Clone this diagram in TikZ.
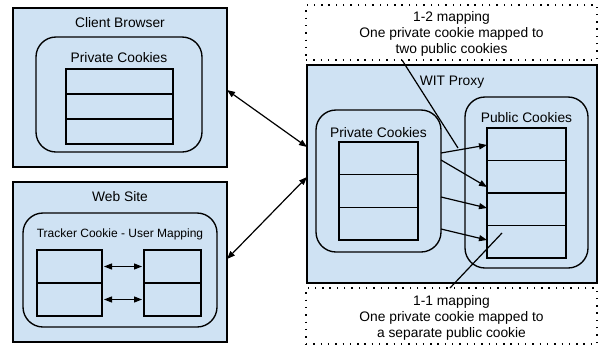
\documentclass[tikz,border=0pt]{standalone}
\usepackage{fontspec}
\setmainfont{Liberation Sans}
\usetikzlibrary{arrows.meta}
\definecolor{boxblue}{HTML}{CFE2F3}
\begin{document}
\begin{tikzpicture}[x=1pt,y=-1pt,
  every node/.style={inner sep=0pt,outer sep=0pt},
  panel/.style={draw=black,fill=boxblue,line width=1.35pt,rectangle},
  roundbox/.style={draw=black,fill=boxblue,line width=1.35pt,rectangle,rounded corners=20pt},
  cell/.style={draw=black,fill=boxblue,line width=1.35pt,rectangle},
  note/.style={draw=black,line width=1.4pt,dash pattern=on 1.4pt off 5.9pt,rectangle},
  lbl/.style={font=\fontsize{13.8pt}{16pt}\selectfont,align=center},
  smalllbl/.style={font=\fontsize{12pt}{14pt}\selectfont,align=center},
  link/.style={line width=1.2pt,{Triangle[length=8pt,width=6pt]}-{Triangle[length=8pt,width=6pt]}},
  oneway/.style={line width=1.2pt,-{Triangle[length=8pt,width=6pt]}},
  callout/.style={line width=1.2pt}]
\useasboundingbox (0,0) rectangle (599,346);

% Client browser
\node[panel,minimum width=214pt,minimum height=159pt] (client) at (120,87.5) {};
\node[lbl] (clientt) at (120,23) {Client Browser};
\node[roundbox,minimum width=166pt,minimum height=115pt] (clientin) at (119,94.5) {};
\node[lbl] (clientpc) at (119,58) {Private Cookies};
\node[cell,minimum width=107pt,minimum height=25pt] (c1) at (119.5,81.5) {};
\node[cell,minimum width=107pt,minimum height=25pt] (c2) at (119.5,106.5) {};
\node[cell,minimum width=107pt,minimum height=25pt] (c3) at (119.5,131.5) {};

% Web site
\node[panel,minimum width=214pt,minimum height=160pt] (web) at (120,262) {};
\node[lbl] (webt) at (120,197) {Web Site};
\node[roundbox,minimum width=194pt,minimum height=114pt] (webin) at (120,270) {};
\node[smalllbl] (webtc) at (120,234) {Tracker Cookie - User Mapping};
\node[cell,minimum width=65pt,minimum height=33pt] (l1) at (69.5,266.5) {};
\node[cell,minimum width=65pt,minimum height=33pt] (l2) at (69.5,299.5) {};
\node[cell,minimum width=57pt,minimum height=33pt] (r1) at (172.5,266.5) {};
\node[cell,minimum width=57pt,minimum height=33pt] (r2) at (172.5,299.5) {};
\draw[link] ([xshift=2pt]l1.east) -- ([xshift=-2pt]r1.west);
\draw[link] ([xshift=2pt]l2.east) -- ([xshift=-2pt]r2.west);

% Proxy
\node[panel,minimum width=290pt,minimum height=218pt] (proxy) at (452,174) {};
\node[lbl] (proxyt) at (452,82) {WIT Proxy};
\node[roundbox,minimum width=125pt,minimum height=142pt] (prv) at (378.5,181) {};
\node[lbl] (prvt) at (378.5,133) {Private Cookies};
\node[cell,minimum width=79pt,minimum height=32.67pt] (p1) at (378.5,158.3) {};
\node[cell,minimum width=79pt,minimum height=32.67pt] (p2) at (378.5,191) {};
\node[cell,minimum width=79pt,minimum height=32.67pt] (p3) at (378.5,223.7) {};
\node[roundbox,minimum width=123pt,minimum height=171pt] (pub) at (526.5,182.5) {};
\node[lbl] (pubt) at (526.5,118) {Public Cookies};
\node[cell,minimum width=79pt,minimum height=32.5pt] (u1) at (526.5,144.25) {};
\node[cell,minimum width=79pt,minimum height=32.5pt] (u2) at (526.5,176.75) {};
\node[cell,minimum width=79pt,minimum height=32.5pt] (u3) at (526.5,209.25) {};
\node[cell,minimum width=79pt,minimum height=32.5pt] (u4) at (526.5,241.75) {};

\draw[oneway] (prv.east |- 0,153) -- (u1.west |- 0,145);
\draw[oneway] (prv.east |- 0,160) -- (u2.west |- 0,187);
\draw[oneway] (prv.east |- 0,197) -- (u3.west |- 0,208);
\draw[oneway] (prv.east |- 0,229) -- (u4.west |- 0,240);

% links between systems
\draw[link] (client.east |- 0,90) -- (proxy.west |- 0,147);
\draw[link] (web.east |- 0,259) -- (proxy.west |- 0,177);

% Notes
\node[note,minimum width=291pt,minimum height=55pt] (note1) at (451.5,32.5) {};
\node[lbl] (note1t) at (451.5,34) {1-2 mapping\\One private cookie mapped to\\two public cookies};
\node[note,minimum width=291pt,minimum height=56pt] (note2) at (451.5,316) {};
\node[lbl] (note2t) at (451.5,317.5) {1-1 mapping\\One private cookie mapped to\\a separate public cookie};

\coordinate (tip1) at (458,148);
\coordinate (tip2) at (502,233);
\draw[callout] (note1.south -| 402,0) -- (tip1);
\draw[callout] (note2.north -| 450,0) -- (tip2);
\end{tikzpicture}
\end{document}
